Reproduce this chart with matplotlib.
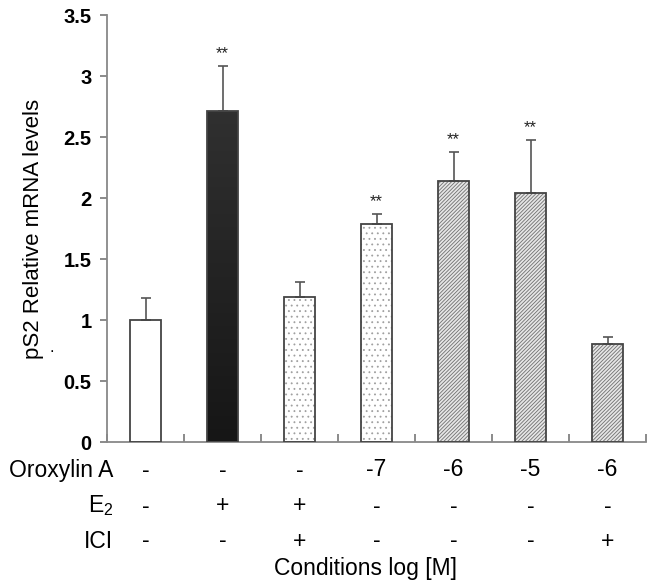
import numpy as np
import matplotlib.pyplot as plt
from matplotlib.colors import LinearSegmentedColormap

plt.rcParams['font.family'] = ['Liberation Sans', 'DejaVu Sans']
plt.rcParams['mathtext.fontset'] = 'custom'
plt.rcParams['mathtext.rm'] = 'Liberation Sans'
plt.rcParams['hatch.linewidth'] = 0.6

# data
means = [1.00, 2.71, 1.19, 1.79, 2.14, 2.04, 0.81]
errs = [0.18, 0.37, 0.12, 0.08, 0.24, 0.44, 0.05]
stars = ['', '**', '', '**', '**', '**', '']
oroxylin = ['-', '-', '-', '-7', '-6', '-5', '-6']
e2 = ['-', '+', '+', '-', '-', '-', '-']
ici = ['-', '-', '+', '-', '-', '-', '+']
row_labels = ['Oroxylin A', 'E$_\\mathregular{2}$', 'ICI']

x = np.arange(len(means))
width = 0.4
edge = '#444444'

fig = plt.figure(figsize=(6.53, 5.86), dpi=100)
ax = fig.add_axes([0.1639, 0.2449, 0.8254, 0.7295])

# fills
styles = ['white', 'dark', 'dots', 'dots', 'hatch', 'hatch', 'hatch']
for xi, m, st in zip(x, means, styles):
    if st == 'white':
        ax.bar(xi, m, width, color='white', linewidth=0)
    elif st == 'dark':
        b = ax.bar(xi, m, width, color='none', linewidth=0)[0]
        grad = np.linspace(0, 1, 100).reshape(-1, 1)
        cmap = LinearSegmentedColormap.from_list('g', ['#161616', '#303030'])
        im = ax.imshow(grad, cmap=cmap, aspect='auto', origin='lower',
                       extent=[xi - width / 2, xi + width / 2, 0, m], zorder=1.5)
        im.set_clip_path(b)
    elif st == 'dots':
        ax.bar(xi, m, width, color='white', edgecolor='#a0a0a0', hatch='...', linewidth=0)
    else:
        ax.bar(xi, m, width, color='#e6e6e6', edgecolor='#707070', hatch='/////////', linewidth=0)
# outlines
ax.bar(x, means, width, color='none', edgecolor=edge, linewidth=1.3, zorder=3)

ax.errorbar(x, means, yerr=[np.zeros(len(errs)), errs], fmt='none', ecolor='#555555',
            elinewidth=1.2, capsize=3.5, capthick=1.2, zorder=2)

for xi, m, e, s in zip(x, means, errs, stars):
    if s:
        ax.text(xi, m + e + 0.04, s, ha='center', va='bottom', fontsize=12, color='#222222')

ax.set_xlim(-0.5, 6.5)
ax.set_ylim(0, 3.5)
ax.set_yticks(np.arange(0, 3.51, 0.5))
ax.set_yticklabels(['0', '0.5', '1', '1.5', '2', '2.5', '3', '3.5'],
                   fontsize=14.5, fontweight='bold')
ax.set_xticks(np.arange(-0.5, 6.6, 1))
ax.set_xticklabels([])
ax.tick_params(axis='x', direction='in', length=6, color='#777777', width=1.2)
ax.tick_params(axis='y', direction='out', length=5, color='#777777', width=1.2, pad=6)
for sp in ['top', 'right']:
    ax.spines[sp].set_visible(False)
for sp in ['left', 'bottom']:
    ax.spines[sp].set_color('#888888')
    ax.spines[sp].set_linewidth(1.3)

ax.set_ylabel('pS2 Relative mRNA levels', fontsize=16, labelpad=14)
fig.text(52 / 653, 1 - 348 / 586, '.', fontsize=12, ha='center', va='center')

# condition table under the axis
row_y = [1 - 470 / 586, 1 - 506 / 586, 1 - 541 / 586]
for ry, lab, vals in zip(row_y, row_labels, [oroxylin, e2, ici]):
    fig.text(113 / 653, ry, lab, ha='right', va='center', fontsize=16.5)
    for xi, v in zip(x, vals):
        xf = fig.transFigure.inverted().transform(ax.transData.transform((xi, 0)))[0]
        fig.text(xf, ry, v, ha='center', va='center', fontsize=16.5)

fig.text(365 / 653, 1 - 568 / 586, 'Conditions log [M]', ha='center', va='center', fontsize=16.5)

fig.savefig('out.png', dpi=100)
